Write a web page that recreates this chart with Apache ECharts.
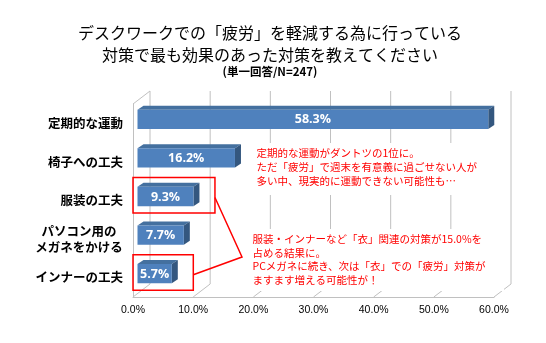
<!DOCTYPE html>
<html><head><meta charset="utf-8">
<script src="https://cdn.jsdelivr.net/npm/echarts@6/dist/echarts.min.js"></script>
<style>html,body{margin:0;padding:0;background:#fff}#c{width:546px;height:343px}</style>
</head><body><div id="c"></div>
<script>
const categories = ['定期的な運動', '椅子への工夫', '服装の工夫', 'パソコン用の\nメガネをかける', 'インナーの工夫'];
const values = [58.3, 16.2, 9.3, 7.7, 5.7];
const xTicks = [0, 10, 20, 30, 40, 50, 60];
const titleLines = ['デスクワークでの「疲労」を軽減する為に行っている', '対策で最も効果のあった対策を教えてください'];
const subTitle = '(単一回答/N=247)';
const note1 = ['定期的な運動がダントツの1位に。', 'ただ「疲労」で週末を有意義に過ごせない人が', '多い中、現実的に運動できない可能性も…'];
const note2 = ['服装・インナーなど「衣」関連の対策が15.0%を', '占める結果に。', 'PCメガネに続き、次は「衣」での「疲労」対策が', 'ますます増える可能性が！'];
const highlighted = [2, 4];

const JP = '"Noto Sans CJK JP", sans-serif';
const DEPTH = [17, -13];      // wall depth
const BAR_OFF = [4.5, -4];    // bar front plane offset
const BAR_D = [6, -4];        // bar box depth

const chart = echarts.init(document.getElementById('c'), null, {renderer: 'canvas'});

function frameItem(params, api) {
  const cs = params.coordSys;
  const px = api.coord([api.value(0), 0])[0];
  const top = cs.y, bottom = cs.y + cs.height;
  const ls = {stroke: '#c0c0c0', lineWidth: 1};
  const children = [
    {type: 'line', shape: {x1: px + DEPTH[0], y1: top + DEPTH[1], x2: px + DEPTH[0], y2: bottom + DEPTH[1]}, style: ls},
    {type: 'line', shape: {x1: px, y1: bottom, x2: px + DEPTH[0], y2: bottom + DEPTH[1]}, style: ls}
  ];
  if (params.dataIndex === 0) {
    children.push({type: 'line', shape: {x1: px, y1: top, x2: px + DEPTH[0], y2: top + DEPTH[1]}, style: ls});
  }
  return {type: 'group', children};
}

function barItem(params, api) {
  const v = api.value(0), c = api.value(1);
  const p0 = api.coord([0, c]);
  const p1 = api.coord([v, c]);
  const h = api.size([0, 1])[1] * 0.5;
  const x = p0[0] + BAR_OFF[0];
  const y = p0[1] + BAR_OFF[1] - h / 2;
  const w = p1[0] - p0[0];
  const dx = BAR_D[0], dy = BAR_D[1];
  return {type: 'group', children: [
    {type: 'polygon', shape: {points: [[x, y], [x + dx, y + dy], [x + w + dx, y + dy], [x + w, y]]}, style: {fill: '#44709f'}},
    {type: 'polygon', shape: {points: [[x + w, y], [x + w + dx, y + dy], [x + w + dx, y + h + dy], [x + w, y + h]]}, style: {fill: '#34577f'}},
    {type: 'rect', shape: {x: x, y: y, width: w, height: h}, style: {fill: '#4f81bd'}},
    {type: 'text', style: {x: x + w / 2, y: y + h / 2 + 0.5, text: v.toFixed(1) + '%', fill: '#fff',
      font: 'bold 12.5px "Open Sans", sans-serif', align: 'center', verticalAlign: 'middle'}}
  ]};
}

chart.setOption({
  animation: false,
  backgroundColor: '#fff',
  grid: {left: 133, right: 52, top: 104, bottom: 46, containLabel: false},
  xAxis: {
    type: 'value', min: 0, max: 60, interval: 10,
    axisLine: {show: true, lineStyle: {color: '#c0c0c0'}},
    axisTick: {show: false}, splitLine: {show: false},
    axisLabel: {formatter: v => v.toFixed(1) + '%', color: '#000', fontFamily: '"Liberation Sans", Arial', fontSize: 10.5, margin: 8}
  },
  yAxis: {
    type: 'category', data: categories, inverse: true,
    axisLine: {show: true, lineStyle: {color: '#c0c0c0'}},
    axisTick: {show: false},
    axisLabel: {
      color: '#000', fontWeight: 'bold', fontSize: 12.5, fontFamily: JP, margin: 10, lineHeight: 16,
      formatter: v => v.indexOf('\n') >= 0 ? v.split('\n').map(s => '{c|' + s + '}').join('\n') : v,
      rich: {c: {width: 88, align: 'center', color: '#000', fontWeight: 'bold', fontSize: 12.5, fontFamily: JP, lineHeight: 16}}
    }
  },
  series: [
    {type: 'custom', silent: true, z: 1, renderItem: frameItem, encode: {x: 0, y: 1},
     data: xTicks.map(v => [v, 0])},
    {type: 'custom', z: 3, renderItem: barItem, encode: {x: 0, y: 1},
     data: values.map((v, i) => [v, i])}
  ]
});

// annotations
const g = [];
titleLines.forEach((t, i) => g.push({type: 'text', z: 10, style: {x: 270, y: 33 + i * 22, text: t, fill: '#000',
  font: '16px ' + JP, align: 'center', verticalAlign: 'middle'}}));
g.push({type: 'text', z: 10, style: {x: 270, y: 72, text: subTitle, fill: '#000',
  font: 'bold 11.5px ' + JP, align: 'center', verticalAlign: 'middle'}});

// white note boxes
g.push({type: 'rect', z: 5, shape: {x: 250, y: 143, width: 252, height: 52}, style: {fill: '#fff'}});
g.push({type: 'rect', z: 5, shape: {x: 246, y: 229, width: 258, height: 62}, style: {fill: '#fff'}});
note1.forEach((t, i) => g.push({type: 'text', z: 6, style: {x: 256.5, y: 153 + i * 14, text: t, fill: '#ff0000',
  font: '10.5px ' + JP, align: 'left', verticalAlign: 'middle'}}));
note2.forEach((t, i) => g.push({type: 'text', z: 6, style: {x: 252.5, y: 239 + i * 13.7, text: t, fill: '#ff0000',
  font: '10.5px ' + JP, align: 'left', verticalAlign: 'middle'}}));

// red highlight boxes around bars
const boxes = highlighted.map(i => {
  const p0 = chart.convertToPixel({xAxisIndex: 0, yAxisIndex: 0}, [0, i]);
  const p1 = chart.convertToPixel({xAxisIndex: 0, yAxisIndex: 0}, [values[i], i]);
  const right = p1[0] + 26;
  return {x: p0[0], y: p0[1] - 23, w: right - p0[0], h: 35.5, cy: p0[1] - 3};
});
boxes.forEach(b => g.push({type: 'rect', z: 7, shape: {x: b.x, y: b.y, width: b.w, height: b.h},
  style: {fill: 'none', stroke: '#ff0000', lineWidth: 1.5}}));
g.push({type: 'polyline', z: 7, shape: {points: [[boxes[0].x + boxes[0].w, boxes[0].cy], [242, 257], [boxes[1].x + boxes[1].w, boxes[1].cy]]},
  style: {fill: 'none', stroke: '#ff0000', lineWidth: 1.5}});

chart.setOption({graphic: g});
</script></body></html>
